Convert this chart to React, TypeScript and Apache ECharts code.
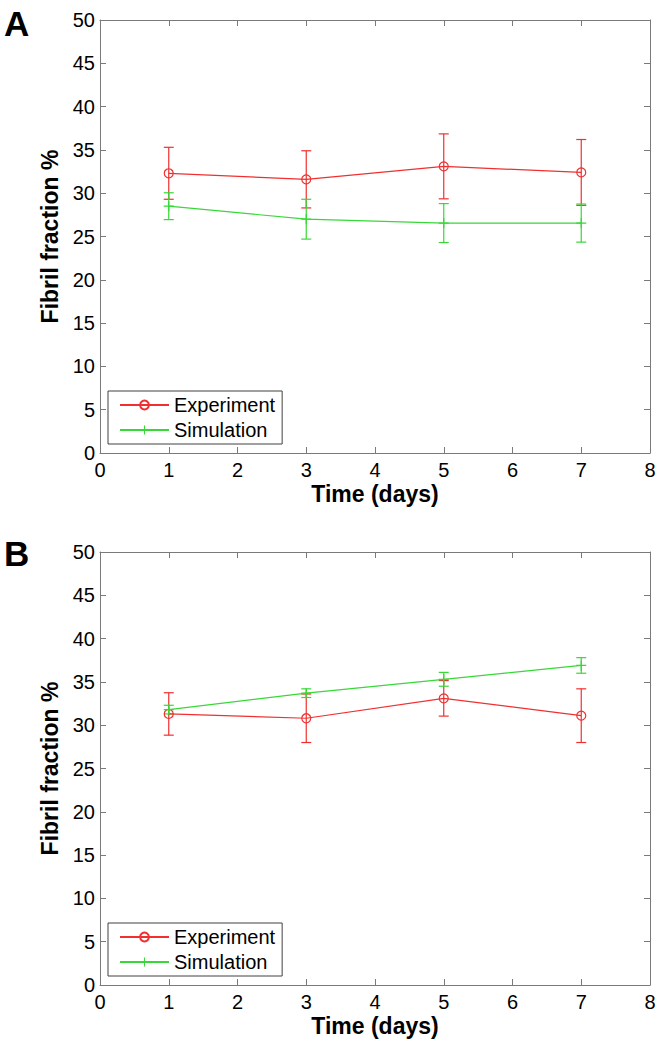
import React, { useEffect, useRef } from 'react';
import * as echarts from 'echarts';

// ---- data ----
const days = [1, 3, 5, 7];

const expMeanA = [32.3, 31.6, 33.1, 32.4];
const expErrA = [3.0, 3.3, 3.75, 3.8];
const simMeanA = [28.5, 27.0, 26.55, 26.55];
const simErrA = [1.55, 2.3, 2.25, 2.2];

const expMeanB = [31.3, 30.8, 33.1, 31.1];
const expErrB = [2.45, 2.8, 2.05, 3.1];
const simMeanB = [31.8, 33.7, 35.3, 36.9];
const simErrB = [0.5, 0.5, 0.8, 0.9];

const seriesNames = ['Experiment', 'Simulation'];
const panelLabels = ['A', 'B'];
const xTitle = 'Time (days)';
const yTitle = 'Fibril fraction %';

// ---- styling ----
const FONT = '"Liberation Sans", Arial, Helvetica, sans-serif';
const RED = '#f03030';
const GREEN = '#38d838';
const AXIS = '#7a7a7a';
const PLUS = 'path://M4.4,0H5.6V10H4.4Z M0,4.4H10V5.6H0Z';

const grids = [
  { left: 100, top: 20, width: 550, height: 433 },
  { left: 100, top: 552, width: 550, height: 433 },
];

function pairs(xs: number[], ys: number[]) {
  return xs.map((x, i) => [x, ys[i]]);
}
function errData(xs: number[], m: number[], e: number[]) {
  return xs.map((x, i) => [x, m[i] - e[i], m[i] + e[i]]);
}

function errSeries(name: string, idx: number, color: string, data: number[][]) {
  return {
    type: 'custom',
    name,
    xAxisIndex: idx * 2,
    yAxisIndex: idx * 2,
    data,
    encode: { x: 0, y: [1, 2] },
    z: 3,
    renderItem: (params: any, api: any) => {
      const x = api.value(0);
      const lo = api.coord([x, api.value(1)]);
      const hi = api.coord([x, api.value(2)]);
      const w = 5;
      const style = { stroke: color, lineWidth: 1.2, fill: null };
      return {
        type: 'group',
        children: [
          { type: 'line', shape: { x1: lo[0], y1: lo[1], x2: hi[0], y2: hi[1] }, style },
          { type: 'line', shape: { x1: lo[0] - w, y1: lo[1], x2: lo[0] + w, y2: lo[1] }, style },
          { type: 'line', shape: { x1: hi[0] - w, y1: hi[1], x2: hi[0] + w, y2: hi[1] }, style },
        ],
      };
    },
  };
}

function lineSeries(name: string, idx: number, kind: 'exp' | 'sim', data: number[][]) {
  const color = kind === 'exp' ? RED : GREEN;
  return {
    type: 'line',
    name,
    xAxisIndex: idx * 2,
    yAxisIndex: idx * 2,
    data,
    z: 4,
    symbol: kind === 'exp' ? 'circle' : PLUS,
    symbolSize: kind === 'exp' ? 9 : 10,
    showSymbol: true,
    lineStyle: { color, width: 1.2 },
    itemStyle:
      kind === 'exp'
        ? { color: 'rgba(0,0,0,0)', borderColor: color, borderWidth: 1.2 }
        : { color, borderWidth: 0 },
    emphasis: { disabled: true },
  };
}

function xAxes(idx: number) {
  const common = {
    type: 'value',
    gridIndex: idx,
    min: 0,
    max: 8,
    interval: 1,
    splitLine: { show: false },
    axisLine: { show: true, onZero: false, lineStyle: { color: AXIS, width: 1 } },
    axisTick: { show: true, inside: true, length: 6, lineStyle: { color: AXIS, width: 1 } },
  };
  return [
    {
      ...common,
      position: 'bottom',
      axisLabel: { show: true, margin: 7, color: '#000', fontSize: 20, fontFamily: FONT },
      name: xTitle,
      nameLocation: 'middle',
      nameGap: 29,
      nameTextStyle: { color: '#000', fontSize: 23, fontWeight: 'bold', fontFamily: FONT },
    },
    { ...common, position: 'top', axisLabel: { show: false } },
  ];
}

function yAxes(idx: number) {
  const common = {
    type: 'value',
    gridIndex: idx,
    min: 0,
    max: 50,
    interval: 5,
    splitLine: { show: false },
    axisLine: { show: true, onZero: false, lineStyle: { color: AXIS, width: 1 } },
    axisTick: { show: true, inside: true, length: 6, lineStyle: { color: AXIS, width: 1 } },
  };
  return [
    {
      ...common,
      position: 'left',
      axisLabel: { show: true, margin: 5, color: '#000', fontSize: 20, fontFamily: FONT },
      name: yTitle,
      nameLocation: 'middle',
      nameGap: 37,
      nameTextStyle: { color: '#000', fontSize: 23, fontWeight: 'bold', fontFamily: FONT },
    },
    { ...common, position: 'right', axisLabel: { show: false } },
  ];
}

function legendFor(top: number) {
  return {
    data: seriesNames,
    orient: 'vertical',
    left: 108,
    top,
    itemWidth: 49,
    itemHeight: 11,
    itemGap: 5,
    padding: [4, 7, 4, 11],
    borderColor: '#404040',
    borderWidth: 1,
    borderRadius: 0,
    backgroundColor: '#fff',
    selectedMode: false,
    textStyle: { color: '#000', fontSize: 20, fontFamily: FONT },
  };
}

export default function App() {
  const ref = useRef<HTMLDivElement>(null);

  useEffect(() => {
    if (!ref.current) return;
    const chart = echarts.init(ref.current, undefined, { renderer: 'svg' });
    const option: any = {
      animation: false,
      backgroundColor: '#fff',
      grid: grids,
      xAxis: [...xAxes(0), ...xAxes(1)],
      yAxis: [...yAxes(0), ...yAxes(1)],
      legend: [legendFor(391), legendFor(923)],
      graphic: [
        {
          type: 'text',
          left: 4,
          top: 6,
          style: { text: panelLabels[0], fontSize: 35, fontWeight: 'bold', fontFamily: FONT, fill: '#000' },
        },
        {
          type: 'text',
          left: 4,
          top: 536,
          style: { text: panelLabels[1], fontSize: 35, fontWeight: 'bold', fontFamily: FONT, fill: '#000' },
        },
      ],
      series: [
        errSeries('errExpA', 0, RED, errData(days, expMeanA, expErrA)),
        lineSeries(seriesNames[0], 0, 'exp', pairs(days, expMeanA)),
        errSeries('errSimA', 0, GREEN, errData(days, simMeanA, simErrA)),
        lineSeries(seriesNames[1], 0, 'sim', pairs(days, simMeanA)),
        errSeries('errExpB', 1, RED, errData(days, expMeanB, expErrB)),
        lineSeries(seriesNames[0], 1, 'exp', pairs(days, expMeanB)),
        errSeries('errSimB', 1, GREEN, errData(days, simMeanB, simErrB)),
        lineSeries(seriesNames[1], 1, 'sim', pairs(days, simMeanB)),
      ],
    };
    chart.setOption(option);
    return () => chart.dispose();
  }, []);

  return (
    <div
      ref={ref}
      style={{ position: 'absolute', left: 0, top: 0, width: 661, height: 1047, background: '#fff' }}
    />
  );
}
